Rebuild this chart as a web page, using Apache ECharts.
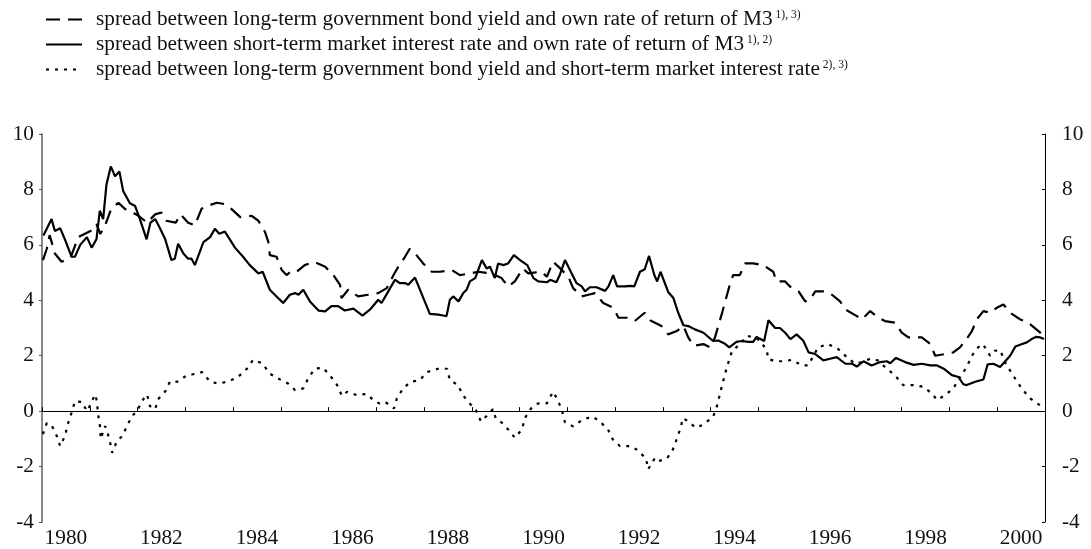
<!DOCTYPE html>
<html>
<head>
<meta charset="utf-8">
<script src="https://cdn.jsdelivr.net/npm/echarts@6/dist/echarts.min.js"></script>
<style>
html,body{margin:0;padding:0;background:#fff;}
#chart{width:1091px;height:549px;}
</style>
</head>
<body>
<div id="chart"></div>
<script>
// series names (legend) and footnote marks
var nameLong = 'spread between long-term government bond yield and own rate of return of M3';
var nameShort = 'spread between short-term market interest rate and own rate of return of M3';
var nameLS = 'spread between long-term government bond yield and short-term market interest rate';
var notes = {};
notes[nameLong] = '1), 3)';
notes[nameShort] = '1), 2)';
notes[nameLS] = '2), 3)';

var yTicks = [-4, -2, 0, 2, 4, 6, 8, 10];

// dashed: long-term yield minus own rate of M3
var longDates = [1980.02,1980.10,1980.16,1980.27,1980.41,1980.60,1980.76,1980.90,1981.04,1981.14,1981.22,1981.30,1981.45,1981.60,1981.74,1981.86,1982.02,1982.20,1982.37,1982.50,1982.60,1982.80,1982.90,1983.06,1983.20,1983.34,1983.45,1983.66,1983.83,1983.97,1984.15,1984.39,1984.53,1984.67,1984.74,1984.77,1984.91,1985.02,1985.12,1985.22,1985.33,1985.50,1985.70,1985.93,1986.10,1986.24,1986.27,1986.41,1986.62,1986.83,1987.04,1987.22,1987.36,1987.46,1987.60,1987.70,1987.84,1987.98,1988.16,1988.33,1988.58,1988.75,1988.96,1989.13,1989.38,1989.48,1989.62,1989.76,1989.90,1990.07,1990.18,1990.30,1990.46,1990.57,1990.70,1990.85,1991.02,1991.12,1991.30,1991.44,1991.58,1991.75,1991.96,1992.07,1992.24,1992.41,1992.62,1992.73,1992.97,1993.11,1993.29,1993.43,1993.53,1993.64,1993.85,1993.99,1994.09,1994.23,1994.40,1994.47,1994.61,1994.72,1994.89,1995.10,1995.31,1995.38,1995.56,1995.66,1995.84,1995.98,1996.08,1996.19,1996.40,1996.54,1996.71,1996.82,1997.06,1997.17,1997.34,1997.51,1997.65,1997.86,1998.00,1998.14,1998.42,1998.60,1998.70,1998.91,1999.08,1999.22,1999.36,1999.47,1999.57,1999.71,1999.85,1999.99,2000.13,2000.27,2000.48,2000.65,2000.90,2000.97];
var longValues = [5.45,5.86,6.35,5.69,5.39,5.55,6.28,6.40,6.52,6.75,6.40,6.60,7.30,7.52,7.29,7.20,7.05,6.80,7.10,7.17,6.87,6.80,7.10,6.80,6.70,7.30,7.40,7.52,7.47,7.29,7.00,7.05,6.87,6.46,6.10,5.63,5.57,5.09,4.91,5.05,5.03,5.27,5.39,5.21,4.91,4.56,4.08,4.38,4.14,4.20,4.26,4.44,4.91,5.21,5.57,5.86,5.63,5.33,5.03,5.03,5.09,4.91,4.97,5.03,4.97,4.91,4.80,4.50,4.68,5.15,4.97,5.00,5.03,4.85,5.39,5.15,4.85,4.44,4.14,4.20,4.26,3.90,3.73,3.37,3.37,3.25,3.55,3.28,3.07,2.77,2.89,3.07,2.66,2.36,2.42,2.30,2.66,3.49,4.56,4.91,4.91,5.33,5.33,5.27,5.03,4.68,4.68,4.50,4.32,3.96,4.02,4.32,4.32,4.20,3.96,3.67,3.43,3.31,3.61,3.37,3.25,3.19,2.83,2.66,2.66,2.42,2.00,2.06,2.12,2.30,2.60,2.89,3.31,3.61,3.55,3.73,3.85,3.55,3.31,3.19,2.83,2.66];

// solid: short-term rate minus own rate of M3
var shortDates = [1980.03,1980.20,1980.27,1980.38,1980.48,1980.62,1980.69,1980.80,1980.94,1981.04,1981.14,1981.21,1981.28,1981.35,1981.44,1981.53,1981.62,1981.70,1981.84,1981.95,1982.05,1982.19,1982.27,1982.37,1982.47,1982.58,1982.71,1982.78,1982.85,1982.96,1983.06,1983.13,1983.20,1983.38,1983.52,1983.62,1983.71,1983.83,1984.04,1984.21,1984.35,1984.53,1984.62,1984.77,1984.91,1985.05,1985.19,1985.30,1985.37,1985.47,1985.61,1985.79,1985.93,1986.06,1986.20,1986.34,1986.52,1986.71,1986.87,1987.04,1987.11,1987.25,1987.39,1987.49,1987.60,1987.67,1987.81,1988.12,1988.30,1988.40,1988.47,1988.54,1988.61,1988.72,1988.82,1988.89,1988.96,1989.07,1989.21,1989.31,1989.38,1989.48,1989.55,1989.66,1989.76,1989.88,1990.01,1990.16,1990.29,1990.39,1990.57,1990.64,1990.77,1990.84,1990.95,1991.09,1991.19,1991.30,1991.37,1991.47,1991.61,1991.79,1991.86,1991.96,1992.04,1992.21,1992.31,1992.40,1992.52,1992.62,1992.71,1992.82,1992.88,1992.95,1993.11,1993.22,1993.32,1993.43,1993.53,1993.67,1993.85,1994.05,1994.16,1994.30,1994.39,1994.54,1994.65,1994.79,1994.89,1994.96,1995.12,1995.21,1995.35,1995.45,1995.56,1995.67,1995.80,1995.94,1996.05,1996.19,1996.36,1996.50,1996.64,1996.82,1996.96,1997.06,1997.20,1997.37,1997.55,1997.69,1997.76,1997.88,1998.07,1998.25,1998.42,1998.60,1998.74,1998.88,1999.05,1999.19,1999.29,1999.36,1999.54,1999.71,1999.80,1999.92,2000.06,2000.27,2000.38,2000.52,2000.62,2000.72,2000.82,2000.90,2000.98];
var shortValues = [6.34,6.93,6.50,6.60,6.20,5.57,5.57,6.00,6.28,5.90,6.20,7.23,6.93,8.18,8.83,8.47,8.65,7.94,7.50,7.40,6.93,6.20,6.80,6.93,6.60,6.20,5.45,5.50,6.04,5.69,5.50,5.50,5.27,6.10,6.28,6.58,6.40,6.48,5.90,5.57,5.27,4.97,5.03,4.38,4.14,3.90,4.20,4.26,4.20,4.38,3.96,3.63,3.60,3.79,3.79,3.63,3.70,3.45,3.67,4.02,3.90,4.32,4.74,4.62,4.62,4.56,4.82,3.51,3.48,3.45,3.43,4.02,4.14,3.96,4.26,4.38,4.68,4.80,5.45,5.15,5.21,4.80,5.33,5.27,5.33,5.63,5.45,5.27,4.80,4.68,4.65,4.74,4.65,4.91,5.45,4.97,4.62,4.50,4.32,4.47,4.47,4.34,4.50,4.91,4.50,4.50,4.52,4.50,5.03,5.12,5.60,4.91,4.68,5.03,4.30,4.08,3.55,3.10,3.07,2.95,2.83,2.53,2.55,2.43,2.30,2.50,2.53,2.50,2.50,2.68,2.53,3.28,3.00,3.00,2.83,2.60,2.77,2.54,2.12,2.06,1.83,1.89,1.95,1.71,1.71,1.61,1.80,1.65,1.77,1.80,1.73,1.92,1.77,1.67,1.71,1.65,1.65,1.53,1.30,1.23,0.97,0.94,1.06,1.14,1.69,1.71,1.59,2.00,2.33,2.42,2.48,2.60,2.68,2.66,2.60];

// dotted: long-term yield minus short-term rate
var lsDates = [1980.02,1980.10,1980.21,1980.31,1980.38,1980.48,1980.54,1980.63,1980.69,1980.84,1980.94,1981.00,1981.11,1981.15,1981.17,1981.21,1981.23,1981.32,1981.36,1981.42,1981.47,1981.57,1981.68,1981.78,1981.88,1981.99,1982.09,1982.20,1982.26,1982.37,1982.43,1982.58,1982.68,1982.83,1983.03,1983.16,1983.35,1983.52,1983.69,1983.89,1984.10,1984.29,1984.42,1984.61,1984.77,1984.94,1985.15,1985.30,1985.47,1985.57,1985.71,1985.88,1986.03,1986.18,1986.28,1986.39,1986.59,1986.80,1986.95,1987.06,1987.18,1987.37,1987.43,1987.56,1987.72,1987.91,1988.06,1988.29,1988.48,1988.54,1988.71,1988.81,1988.94,1989.09,1989.19,1989.30,1989.44,1989.50,1989.65,1989.76,1989.90,1990.05,1990.11,1990.24,1990.39,1990.57,1990.70,1990.80,1990.89,1990.95,1991.12,1991.30,1991.52,1991.68,1991.85,1991.95,1992.10,1992.33,1992.50,1992.65,1992.69,1992.84,1992.94,1993.09,1993.21,1993.30,1993.37,1993.42,1993.53,1993.69,1993.84,1994.05,1994.13,1994.24,1994.34,1994.45,1994.62,1994.76,1994.89,1995.03,1995.18,1995.20,1995.35,1995.52,1995.70,1995.91,1996.04,1996.25,1996.46,1996.67,1996.85,1997.02,1997.17,1997.34,1997.50,1997.69,1997.86,1998.03,1998.24,1998.45,1998.63,1998.74,1998.91,1999.08,1999.22,1999.36,1999.47,1999.60,1999.70,1999.85,1999.95,2000.06,2000.18,2000.31,2000.44,2000.54,2000.69,2000.83,2000.94];
var lsValues = [-0.83,-0.43,-0.54,-0.90,-1.26,-0.90,-0.47,0.00,0.36,0.33,0.00,0.18,0.60,0.36,-0.07,-0.47,-1.00,-0.54,-0.70,-1.08,-1.50,-1.08,-0.90,-0.54,-0.18,0.00,0.36,0.60,0.18,0.07,0.43,0.71,1.07,1.06,1.29,1.33,1.41,1.06,1.00,1.06,1.23,1.53,1.85,1.73,1.35,1.18,1.00,0.76,0.82,1.17,1.53,1.57,1.29,0.94,0.55,0.70,0.58,0.62,0.38,0.28,0.34,0.10,0.46,0.82,1.06,1.12,1.41,1.53,1.53,1.12,0.94,0.58,0.31,0.02,-0.37,-0.19,0.07,-0.25,-0.45,-0.66,-0.96,-0.66,-0.25,0.10,0.28,0.28,0.70,0.40,0.00,-0.40,-0.55,-0.33,-0.19,-0.37,-0.66,-1.02,-1.26,-1.26,-1.44,-1.73,-2.10,-1.67,-1.79,-1.70,-1.38,-0.96,-0.60,-0.25,-0.37,-0.60,-0.49,-0.21,0.17,0.94,1.59,2.18,2.42,2.72,2.66,2.56,2.18,1.89,1.80,1.80,1.85,1.65,1.65,2.30,2.42,2.24,1.95,1.71,1.77,1.89,1.83,1.53,1.29,0.94,0.94,0.88,0.64,0.40,0.58,0.82,1.23,1.59,2.00,2.30,2.42,2.00,2.18,2.20,1.71,1.35,1.00,0.76,0.46,0.28,0.17];

function pairs(dates, values) {
	var out = [];
	for (var i = 0; i < dates.length; i++) {
		out.push([dates[i], values[i]]);
	}
	return out;
}

var font = 'Liberation Serif, Times New Roman, serif';
var fs = 21.3;
var myChart = echarts.init(document.getElementById('chart'));
var option = {
	backgroundColor: '#fff',
	animation: false,
	textStyle: { fontFamily: font, color: '#111' },
	legend: {
		orient: 'vertical',
		left: 40,
		top: 4,
		itemWidth: 36,
		itemHeight: 14,
		itemGap: 4,
		itemStyle: { opacity: 0 },   // line only, no marker in the key
		data: [nameLong, nameShort, nameLS],
		formatter: function (name) {
			return '{t|' + name + '} {sup|' + notes[name] + '}';
		},
		textStyle: {
			fontFamily: font,
			color: '#111',
			padding: [0, 0, 0, 9],
			rich: {
				t: { fontFamily: font, fontSize: fs, color: '#111', lineHeight: 20 },
				sup: { fontFamily: font, fontSize: 11.5, color: '#111', verticalAlign: 'bottom', padding: [0, 0, 9, 0] }
			}
		}
	},
	grid: { left: 42, right: 46, top: 134, bottom: 22 },
	xAxis: [{
		type: 'value',
		min: 1980,
		max: 2001,
		interval: 1,
		axisLine: { show: true, lineStyle: { color: '#000', width: 1 } },
		axisTick: { show: true, inside: true, length: 4, lineStyle: { color: '#000' } },
		axisLabel: { show: false },
		splitLine: { show: false }
	}, {
		// year labels centred on the middle of each year
		type: 'value',
		min: 1979.5,
		max: 2000.5,
		interval: 0.5,
		position: 'bottom',
		axisLine: { show: false },
		axisTick: { show: false },
		splitLine: { show: false },
		axisLabel: {
			margin: 6,
			fontFamily: font,
			fontSize: fs,
			color: '#111',
			showMinLabel: false,
			showMaxLabel: false,
			formatter: function (v) { return (v % 2 === 0) ? String(v) : ''; }
		}
	}],
	yAxis: [{
		type: 'value',
		position: 'left',
		min: yTicks[0],
		max: yTicks[yTicks.length - 1],
		interval: 2,
		axisLine: { show: true, lineStyle: { color: '#888', width: 2 } },
		axisTick: { show: true, length: 3, lineStyle: { color: '#555' } },
		axisLabel: { margin: 8, fontFamily: font, fontSize: fs, color: '#111' },
		splitLine: { show: false }
	}, {
		type: 'value',
		position: 'right',
		min: yTicks[0],
		max: yTicks[yTicks.length - 1],
		interval: 2,
		axisLine: { show: true, lineStyle: { color: '#000', width: 1 } },
		axisTick: { show: true, inside: true, length: 3, lineStyle: { color: '#000' } },
		axisLabel: { margin: 17, fontFamily: font, fontSize: fs, color: '#111' },
		splitLine: { show: false }
	}],
	series: [{
		name: nameLong,
		type: 'line',
		symbol: 'none',
		data: pairs(longDates, longValues),
		lineStyle: { color: '#000', width: 2.2, type: [14, 8] },
		itemStyle: { color: '#000' },
		z: 3
	}, {
		name: nameShort,
		type: 'line',
		symbol: 'none',
		data: pairs(shortDates, shortValues),
		lineStyle: { color: '#000', width: 2.2, type: 'solid' },
		itemStyle: { color: '#000' },
		z: 4
	}, {
		name: nameLS,
		type: 'line',
		symbol: 'none',
		data: pairs(lsDates, lsValues),
		lineStyle: { color: '#000', width: 2.2, type: [3, 6] },
		itemStyle: { color: '#000' },
		z: 2,
		markLine: {
			silent: true,
			symbol: 'none',
			label: { show: false },
			lineStyle: { color: '#000', width: 1, type: 'solid' },
			data: [{ yAxis: 0 }]
		}
	}]
};
myChart.setOption(option);
</script>
</body>
</html>
